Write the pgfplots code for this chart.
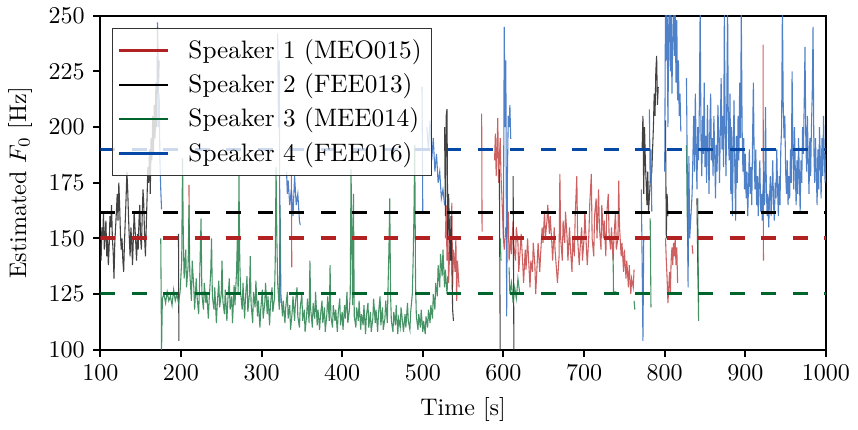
\documentclass[border=0pt]{standalone}
\usepackage{pgfplots}
\pgfplotsset{compat=1.18}
\definecolor{dred}{RGB}{178,34,34}
\definecolor{dgreen}{RGB}{0,100,45}
\definecolor{dblue}{RGB}{5,72,165}
\definecolor{tred}{RGB}{200,80,80}
\definecolor{tgreen}{RGB}{50,135,85}
\definecolor{tblue}{RGB}{60,115,195}
\definecolor{tblack}{RGB}{45,45,45}
\begin{document}
\begin{tikzpicture}
\begin{axis}[
  scale only axis, width=302pt, height=139pt,
  xmin=100, xmax=1000, ymin=100, ymax=250,
  xtick={100,200,...,1000}, ytick={100,125,...,250},
  /pgf/number format/1000 sep={},
  tick align=outside, tick pos=left, major tick length=3pt,
  axis line style={line width=0.8pt},
  tick style={line width=0.8pt, black},
  xlabel={Time [s]}, ylabel={Estimated $F_0$ [Hz]},
  unbounded coords=jump,
  legend style={at={(0.0164,0.964)}, anchor=north west, fill=white, fill opacity=0.8, text opacity=1, draw=black!80, line width=0.5pt, row sep=0.9pt, inner xsep=2pt, inner ysep=2.5pt, font=\fontsize{10.5}{12.5}\selectfont},
  legend cell align=left,
  legend image code/.code={\draw[line width=1pt, #1] (0pt,0pt) -- (20.5pt,0pt); \path (26.5pt,0pt);},
]
\addlegendimage{color=dred, line width=1pt}
\addlegendentry{Speaker 1 (MEO015)}
\addlegendimage{color=black, line width=1pt}
\addlegendentry{Speaker 2 (FEE013)}
\addlegendimage{color=dgreen, line width=1pt}
\addlegendentry{Speaker 3 (MEE014)}
\addlegendimage{color=dblue, line width=1pt}
\addlegendentry{Speaker 4 (FEE016)}

% Speaker 1 (red)
\addplot[tred, line width=0.45pt, opacity=0.9, forget plot] coordinates {
(210,174)(210.5,143)(210.5,nan)
(337,179)(337.5,137)(337.5,nan)
(528,150)(529,165)(530,140)(531,158)(532,130)(534,152)(535,140)(536,166)(537,128)(538,145)(540,135)(541,150)(542,122)(543,140)(545,128)(545,nan)
(573,206)(573.5,153)(573.5,nan)
(589,185)(590,197)(591,178)(592,190)(593,204)(594,175)(595,186)(596,195)(597,178)(598,170)(599,160)(600,150)(601,145)(603,155)(604,150)(606,162)(607,140)(609,150)(610,143)(612,158)(613,147)(615,140)(616,155)(618,148)(619,135)(621,146)(622,152)(624,138)(625,130)(627,145)(628,136)(630,150)(631,142)(633,128)(634,140)(636,135)(637,148)(639,138)(640,125)(642,140)(643,148)(645,135)(646,142)(648,155)(649,148)(651,162)(652,150)(654,158)(655,165)(657,152)(658,160)(660,148)(661,140)(663,155)(664,145)(666,135)(667,130)(669,142)(670,179)(671,150)(673,140)(674,158)(676,148)(677,162)(679,150)(680,140)(682,155)(683,146)(685,135)(686,150)(688,142)(689,160)(691,178)(692,150)(694,138)(695,145)(697,155)(698,140)(700,150)(701,162)(703,145)(704,138)(706,152)(707,165)(709,179)(710,150)(712,142)(713,160)(715,168)(716,150)(718,172)(719,155)(721,145)(722,165)(724,150)(725,158)(727,142)(728,160)(730,170)(731,152)(733,145)(734,155)(736,140)(737,150)(739,162)(740,145)(742,150)(743,176)(744,155)(746,142)(747,148)(749,135)(750,145)(752,132)(753,140)(755,128)(756,138)(758,125)(759,132)(761,128)(762,136)(762,nan)
(801,150)(802,140)(803,132)(804,121)(805,128)(806,135)(807,125)(808,140)(809,146)(810,138)(811,148)(812,142)(813,150)(814,138)(815,146)(816,130)(816,nan)
(834,147)(835,143)(835,nan)
(922,237)(922.5,140)
};

% Speaker 2 (black)
\addplot[tblack, line width=0.45pt, opacity=0.9, forget plot] coordinates {
(100,148)(101,140)(102,155)(103,150)(104,162)(105,145)(106,152)(107,158)(108,142)(109,150)(110,138)(111,146)(112,160)(113,155)(114,165)(115,150)(116,144)(117,132)(118,148)(119,155)(120,162)(121,170)(122,158)(123,175)(124,165)(125,152)(126,145)(127,150)(128,140)(129,135)(130,148)(131,158)(132,168)(133,180)(134,172)(135,160)(136,150)(137,142)(138,155)(139,148)(140,138)(141,150)(142,162)(143,155)(144,148)(145,140)(146,152)(147,145)(148,158)(149,165)(150,150)(151,145)(152,160)(153,172)(154,165)(155,150)(156,142)(157,155)(158,168)(159,182)(160,175)(161,190)(162,170)(163,195)(164,185)(165,205)(166,188)(167,210)(168,195)(169,220)(170,200)(171,245)(172,215)(173,230)(173,nan)
(197,152)(197.5,104)(197.5,nan)
(527,200)(528,160)(529,205)(530,208)(531,150)(532,170)(534,140)(535,160)(537,118)(538,113)(538,nan)
(595,181)(596,99)(596,nan)
(612,178)(613,99)(613,nan)
(772,190)(773,205)(774,170)(775,200)(776,185)(777,175)(778,165)(779,180)(780,162)(782,175)(784,180)(786,200)(787,215)(788,205)(789,225)(790,232)(791,210)(792,218)(792,nan)
(801,203)(802,150)(803,170)(804,160)(804,nan)
(840,168)(841,140)(842,121)
};

% Speaker 3 (green)
\addplot[tgreen, line width=0.45pt, opacity=0.9, forget plot] coordinates {
(175,150)(176,99)(177,123)(179,125)(181,121)(183,126)(185,122)(187,124)(189,120)(191,127)(193,122)(195,125)(197,121)(199,126)(201,140)(202,186)(203,150)(204,132)(206,145)(207,128)(209,138)(210,165)(211,135)(213,122)(214,140)(216,128)(217,118)(219,132)(220,124)(222,116)(223,128)(225,159)(226,125)(228,118)(229,130)(231,121)(232,126)(234,114)(235,122)(237,135)(238,150)(239,124)(241,118)(242,128)(244,112)(245,120)(247,131)(248,119)(250,125)(251,140)(252,122)(254,116)(255,127)(257,113)(258,121)(260,132)(261,118)(263,124)(264,112)(266,129)(267,120)(269,135)(270,150)(271,125)(272,178)(273,140)(274,126)(276,118)(277,130)(279,114)(280,123)(282,133)(283,117)(285,125)(286,142)(287,121)(289,112)(290,126)(292,119)(293,131)(295,115)(296,122)(298,110)(299,118)(301,127)(302,114)(304,121)(305,130)(307,116)(308,124)(310,111)(311,120)(313,128)(314,117)(316,123)(317,140)(318,182)(319,150)(320,130)(322,118)(323,165)(324,125)(326,115)(327,122)(329,112)(330,119)(332,126)(333,114)(335,120)(336,109)(338,117)(339,124)(341,113)(342,121)(344,128)(345,115)(347,110)(348,119)(350,125)(351,113)(353,118)(354,108)(356,116)(357,123)(359,112)(360,140)(361,118)(363,110)(364,121)(366,114)(367,126)(369,111)(370,118)(372,109)(373,115)(375,122)(376,112)(378,119)(379,108)(381,116)(382,124)(384,113)(385,138)(386,115)(388,110)(389,120)(391,113)(392,118)(394,108)(395,116)(397,123)(398,111)(400,117)(401,109)(403,120)(404,114)(406,126)(407,112)(409,118)(410,125)(411,181)(412,150)(413,120)(414,170)(415,115)(417,110)(418,119)(420,113)(421,122)(423,109)(424,116)(426,111)(427,120)(429,107)(430,115)(432,121)(433,110)(435,117)(436,108)(438,114)(439,123)(441,112)(442,118)(444,108)(445,116)(447,124)(448,111)(450,119)(451,109)(453,114)(454,122)(456,112)(457,130)(458,145)(459,168)(460,125)(461,113)(463,108)(464,117)(466,111)(467,120)(469,107)(470,114)(472,110)(473,119)(475,112)(476,108)(478,116)(479,110)(481,121)(482,113)(484,109)(485,117)(487,125)(488,140)(489,160)(490,192)(491,130)(492,115)(494,109)(495,116)(497,110)(498,118)(500,108)(501,113)(503,107)(504,115)(506,110)(507,118)(509,112)(510,120)(512,114)(513,125)(515,118)(516,130)(518,124)(519,138)(521,128)(522,143)(524,133)(525,145)(527,128)(528,136)(530,125)(531,133)(531,nan)
(596,150)(597,140)(597,nan)
(607,137)(608,125)(610,130)(612,121)(614,128)(616,123)(618,132)(620,126)(620,nan)
(736,143)(736.5,126)(740,126)(740,nan)
(762,122)(763,118)(763,nan)
(782,159)(783,119)(783,nan)
(827,192)(828,160)(829,139)(829,nan)
(841,168)(842,113)
};

% Speaker 4 (blue)
\addplot[tblue, line width=0.45pt, opacity=0.9, forget plot] coordinates {
(171,247)(172,200)(173,215)(174,185)(175,172)(176,163)(176,nan)
(320,242)(321,200)(322,230)(323,121)(323,nan)
(331,180)(332,170)(333,176)(335,165)(337,172)(339,160)(341,178)(343,165)(345,170)(347,158)(348,156)(348,nan)
(499,218)(500,161)(500,nan)
(505,200)(507,190)(509,203)(511,185)(513,195)(515,180)(517,188)(519,175)(521,180)(523,168)(525,172)(527,165)(527,nan)
(600,150)(601,245)(602,200)(603,230)(604,115)(605,180)(606,205)(607,200)(608,210)(609,195)(610,195)(610,nan)
(771,172)(772,140)(773,104)(774,150)(774,nan)
(781,208)(782,175)(783,190)(784,162)(784,nan)
(800,180)(801,258)(802,230)(803,255)(804,200)(805,245)(806,260)(807,225)(808,252)(809,215)(810,240)(811,258)(812,232)(813,256)(814,220)(815,248)(816,212)(817,230)(818,205)(819,215)(820,198)(820,nan)
(827,222)(828,180)(829,128)(830,187)(831,150)(834,170)(836,205)(837,180)(838,215)(839,190)(840,172)(841,200)(842,185)(843,210)(844,255)(845,195)(846,178)(847,205)(848,188)(849,220)(850,182)(851,196)(852,175)(853,210)(854,190)(855,170)(856,200)(857,215)(858,185)(859,195)(860,178)(861,205)(862,188)(863,168)(864,192)(865,180)(866,210)(867,195)(868,175)(869,200)(870,222)(871,190)(872,205)(873,182)(874,252)(875,200)(876,178)(877,210)(878,255)(879,195)(880,185)(881,215)(882,170)(883,200)(884,160)(885,190)(886,212)(887,180)(888,158)(889,196)(890,175)(891,205)(892,185)(893,220)(894,195)(895,252)(896,200)(897,180)(898,195)(899,172)(900,188)(901,168)(902,180)(903,160)(904,175)(905,190)(906,170)(907,182)(908,165)(909,195)(910,220)(911,185)(912,172)(913,190)(914,165)(915,178)(916,160)(917,175)(918,185)(919,162)(920,170)(921,158)(922,172)(923,180)(924,165)(925,209)(926,175)(927,160)(928,170)(929,155)(930,168)(931,178)(932,160)(933,172)(934,185)(935,165)(936,158)(937,175)(938,168)(939,190)(940,172)(941,160)(942,178)(943,165)(944,190)(945,200)(946,255)(947,210)(948,195)(949,205)(950,180)(951,170)(952,185)(953,165)(954,178)(955,168)(956,190)(957,175)(958,225)(959,190)(960,172)(961,200)(962,180)(963,165)(964,185)(965,170)(966,195)(967,178)(968,162)(969,185)(970,175)(971,200)(972,188)(973,210)(974,236)(975,195)(976,180)(977,205)(978,185)(979,170)(980,195)(981,178)(982,200)(983,215)(984,245)(985,190)(986,175)(987,195)(988,180)(989,165)(990,190)(991,172)(992,200)(993,185)(994,168)(995,195)(996,178)(997,205)(998,185)(999,175)(1000,188)
};

% mean lines
\addplot[dblue, line width=1.5pt, dash pattern=on 6.2pt off 6.9pt, forget plot] coordinates {(100,190)(1000,190)};
\addplot[black, line width=1.5pt, dash pattern=on 6.2pt off 6.9pt, forget plot] coordinates {(100,161.7)(1000,161.7)};
\addplot[dred, line width=1.5pt, dash pattern=on 6.2pt off 6.9pt, forget plot] coordinates {(100,150.3)(1000,150.3)};
\addplot[dgreen, line width=1.5pt, dash pattern=on 6.2pt off 6.9pt, forget plot] coordinates {(100,125.3)(1000,125.3)};
\end{axis}
\end{tikzpicture}
\end{document}
